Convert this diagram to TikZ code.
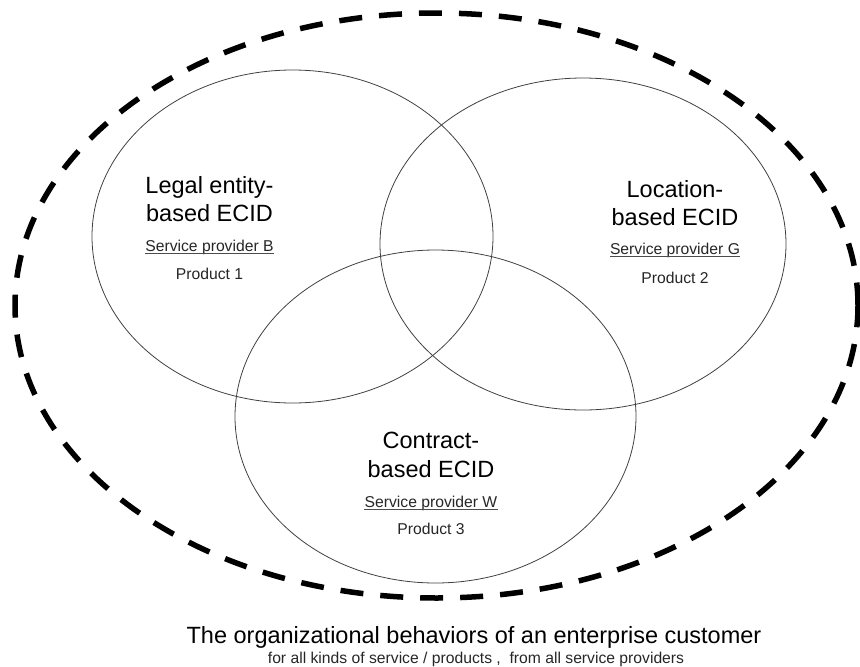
\documentclass[tikz,border=0pt]{standalone}
\usepackage{fontspec}
\setmainfont{Liberation Sans}
\usetikzlibrary{shapes.geometric}

\begin{document}
\begin{tikzpicture}[x=1pt, y=-1pt]
	\tikzstyle{venn}=[
	draw=black!75,
	line width=0.8pt,
	ellipse,
	inner sep=0pt,
	minimum width=401pt,
	minimum height=333pt
	]
	\tikzstyle{outerset}=[
	draw,
	ellipse,
	line width=5.5pt,
	dash pattern=on 23pt off 17pt,
	inner sep=0pt,
	minimum width=843pt,
	minimum height=585pt
	]
	\tikzstyle{heading}=[inner sep=0pt, anchor=base, font=\fontsize{23.5}{28}\selectfont]
	\tikzstyle{detail}=[inner sep=0pt, anchor=base, text=black!85, font=\fontsize{15.7}{19}\selectfont]
	\tikzstyle{uline}=[draw=black!70, line width=0.8pt]
	\useasboundingbox (0,0) rectangle (860,667);
	\node[outerset] (customer) at (436.5,305.5) {};
	\node[venn] (legal) at (292.5,236.5) {};
	\node[venn, minimum width=406pt, minimum height=332pt] (location) at (583,244) {};
	\node[venn] (contract) at (435.5,416.5) {};
	\node[heading] (legalA) at (209.5,193) {Legal entity-};
	\node[heading] (legalB) at (209.5,221) {based ECID};
	\node[detail] (legalsp) at (209.5,251) {Service provider B};
	\node[detail] (legalprod) at (209.5,279) {Product 1};
	\node[heading] (locA) at (675,197) {Location-};
	\node[heading] (locB) at (675,225) {based ECID};
	\node[detail] (locsp) at (675,254) {Service provider G};
	\node[detail] (locprod) at (675,283) {Product 2};
	\node[heading] (conA) at (431,448) {Contract-};
	\node[heading] (conB) at (431,477) {based ECID};
	\node[detail] (consp) at (431,507) {Service provider W};
	\node[detail] (conprod) at (431,534) {Product 3};
	\path[uline] ([yshift=-2.5pt]legalsp.base west) -- ([yshift=-2.5pt]legalsp.base east);
	\path[uline] ([yshift=-2.5pt]locsp.base west) -- ([yshift=-2.5pt]locsp.base east);
	\path[uline] ([yshift=-2.5pt]consp.base west) -- ([yshift=-2.5pt]consp.base east);
	\node[heading] (title) at (474,643) {The organizational behaviors of an enterprise customer};
	\node[detail] (subtitle) at (476,663) {for all kinds of service / products ,\ \ from all service providers};
\end{tikzpicture}
\end{document}
